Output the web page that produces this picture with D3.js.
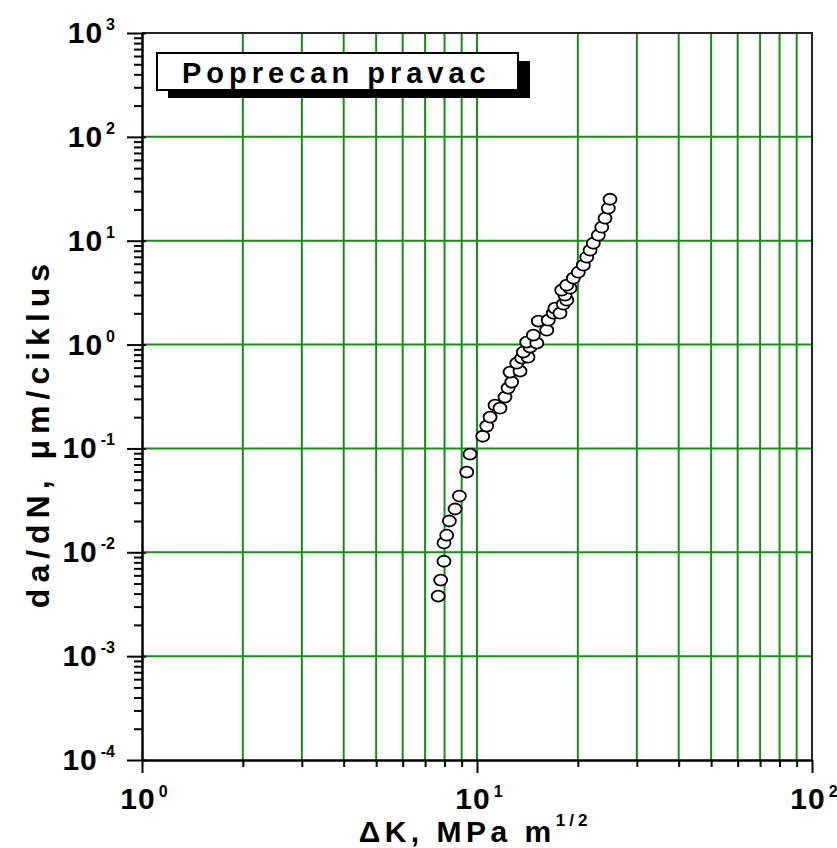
<!DOCTYPE html>
<html>
<head>
<meta charset="utf-8">
<script src="https://cdn.jsdelivr.net/npm/d3@7"></script>
<style>
  body { margin: 0; background: #fff; }
  text { font-family: "Liberation Sans", Arial, sans-serif; font-weight: bold; fill: #000; }
</style>
</head>
<body>
<script>

// data (delta K in MPa m^1/2, da/dN in um/cycle)
var deltaK = [7.66, 7.79, 7.97, 7.97, 8.12, 8.27, 8.60, 8.86, 9.32, 9.53,
              10.40, 10.69, 10.94, 11.32, 11.71, 12.12, 12.38, 12.70, 12.55, 13.44,
              13.14, 13.60, 14.20, 13.75, 14.40, 14.07, 15.08, 14.73, 16.15, 15.24,
              16.32, 16.89, 17.09, 17.69, 18.10, 18.53, 18.31, 17.90, 18.95, 18.53,
              19.39, 20.06, 20.77, 21.26, 21.75, 22.25, 23.02, 23.57, 24.11, 24.66, 24.95];
var dadN = [0.00378, 0.0054, 0.0082, 0.0123, 0.0146, 0.0200, 0.0261, 0.0348, 0.0591, 0.0881,
            0.131, 0.164, 0.200, 0.261, 0.244, 0.312, 0.381, 0.435, 0.543, 0.555,
            0.662, 0.740, 0.756, 0.845, 0.944, 1.055, 1.032, 1.232, 1.376, 1.680,
            1.717, 2.005, 2.240, 2.005, 2.448, 2.675, 2.988, 3.339, 3.490, 3.730,
            4.357, 4.975, 5.812, 6.937, 8.10, 9.46, 11.30, 13.49, 16.47, 20.55, 25.07];

var xExp = [0, 1, 2];
var yExp = [-4, -3, -2, -1, 0, 1, 2, 3];
var legendText = "Poprecan pravac";
var xTitle = "\u0394K, MPa m";
var xTitleSup = "1/2";
var yTitle = "da/dN, \u03bcm/ciklus";

var width = 837;
var height = 848;
var mLeft = 142, mRight = 812, mTop = 33, mBottom = 760;
var green = "#138f13";

var svg = d3.select("body")
      .append("svg")
      .attr("width", width)
      .attr("height", height);

var x = d3.scaleLog().domain([1, 100]).range([mLeft, mRight]);
var y = d3.scaleLog().domain([1e-4, 1e3]).range([mBottom, mTop]);

var xMajor = xExp.map(function(e) { return Math.pow(10, e); });
var yMajor = yExp.map(function(e) { return Math.pow(10, e); });
function isMajor(v, list) {
  return list.some(function(m) { return Math.abs(v / m - 1) < 1e-6; });
}
var xMinor = x.ticks().filter(function(v) { return !isMajor(v, xMajor); });
var yMinor = y.ticks().filter(function(v) { return !isMajor(v, yMajor); });

// grid
var grid = svg.append("g");
grid.selectAll("line.v")
  .data(x.ticks().filter(function(v) { return v > 1.01 && v < 99; }))
  .enter().append("line")
  .attr("class", "v")
  .attr("x1", function(d) { return x(d); })
  .attr("x2", function(d) { return x(d); })
  .attr("y1", y(1e-4))
  .attr("y2", y(1e3))
  .attr("stroke", green)
  .attr("stroke-width", 2);

grid.selectAll("line.h")
  .data(yMajor.slice(1, -1))
  .enter().append("line")
  .attr("class", "h")
  .attr("x1", x(1))
  .attr("x2", x(100))
  .attr("y1", function(d) { return y(d); })
  .attr("y2", function(d) { return y(d); })
  .attr("stroke", green)
  .attr("stroke-width", 2);

// frame top / right
svg.append("path")
  .attr("d", "M" + x(1) + "," + y(1e3) + "H" + x(100) + "V" + y(1e-4))
  .attr("fill", "none")
  .attr("stroke", "#222")
  .attr("stroke-width", 2);

// axes
function styleAxis(g) {
  g.selectAll("path.domain").attr("stroke", "#000").attr("stroke-width", 2);
  g.selectAll(".tick line").attr("stroke", "#000").attr("stroke-width", 2);
}

svg.append("g")
  .attr("transform", "translate(" + mLeft + ",0)")
  .call(d3.axisLeft(y).tickValues(yMinor).tickSize(8).tickSizeOuter(0).tickFormat(""))
  .call(styleAxis);

var yMaj = svg.append("g")
  .attr("transform", "translate(" + mLeft + ",0)")
  .call(d3.axisLeft(y).tickValues(yMajor).tickSize(15).tickSizeOuter(0).tickFormat(""))
  .call(styleAxis);
yMaj.selectAll(".tick line").attr("x1", 4);

svg.append("g")
  .attr("transform", "translate(0," + mBottom + ")")
  .call(d3.axisBottom(x).tickValues(xMinor).tickSize(7).tickSizeOuter(0).tickFormat(""))
  .call(styleAxis);

svg.append("g")
  .attr("transform", "translate(0," + mBottom + ")")
  .call(d3.axisBottom(x).tickValues(xMajor).tickSize(13).tickSizeOuter(0).tickFormat(""))
  .call(styleAxis);

// tick labels with superscript exponents
var yLab = svg.append("g").selectAll("text")
  .data(yExp)
  .enter().append("text")
  .attr("x", 115)
  .attr("y", function(d) { return y(Math.pow(10, d)) + 10; })
  .attr("text-anchor", "end");
yLab.append("tspan").attr("font-size", 30).attr("letter-spacing", 1).text("10");
yLab.append("tspan").attr("font-size", 16).attr("dx", 3).attr("dy", -13)
  .text(function(d) { return d; });

var xLab = svg.append("g").selectAll("text")
  .data(xExp)
  .enter().append("text")
  .attr("x", function(d) { return x(Math.pow(10, d)) + 2; })
  .attr("y", mBottom + 49)
  .attr("text-anchor", "middle");
xLab.append("tspan").attr("font-size", 30).attr("letter-spacing", 1).text("10");
xLab.append("tspan").attr("font-size", 16).attr("dx", 3).attr("dy", -12)
  .text(function(d) { return d; });

// axis titles
var xt = svg.append("text")
  .attr("x", (mLeft + mRight) / 2 - 2)
  .attr("y", 842)
  .attr("text-anchor", "middle");
xt.append("tspan").attr("font-size", 30).attr("letter-spacing", 4.5).text(xTitle);
xt.append("tspan").attr("font-size", 17).attr("letter-spacing", 4).attr("dy", -16).text(xTitleSup);

svg.append("text")
  .attr("transform", "translate(49,433) rotate(-90)")
  .attr("text-anchor", "middle")
  .attr("font-size", 32)
  .attr("letter-spacing", 6)
  .text(yTitle);

// data points
svg.append("g").selectAll("ellipse")
  .data(deltaK)
  .enter().append("ellipse")
  .attr("cx", function(d) { return x(d); })
  .attr("cy", function(d, i) { return y(dadN[i]); })
  .attr("rx", 6.5)
  .attr("ry", 5.5)
  .attr("fill", "#fff")
  .attr("stroke", "#000")
  .attr("stroke-width", 1.8);

// legend box with drop shadow
var leg = svg.append("g");
leg.append("rect")
  .attr("x", 168).attr("y", 61).attr("width", 362).attr("height", 37)
  .attr("fill", "#000");
leg.append("rect")
  .attr("x", 157).attr("y", 53).attr("width", 361).attr("height", 37)
  .attr("fill", "#fff").attr("stroke", "#000").attr("stroke-width", 2);
leg.append("text")
  .attr("x", 182).attr("y", 83)
  .attr("font-size", 29)
  .attr("letter-spacing", 5)
  .text(legendText);

</script>
</body>
</html>
